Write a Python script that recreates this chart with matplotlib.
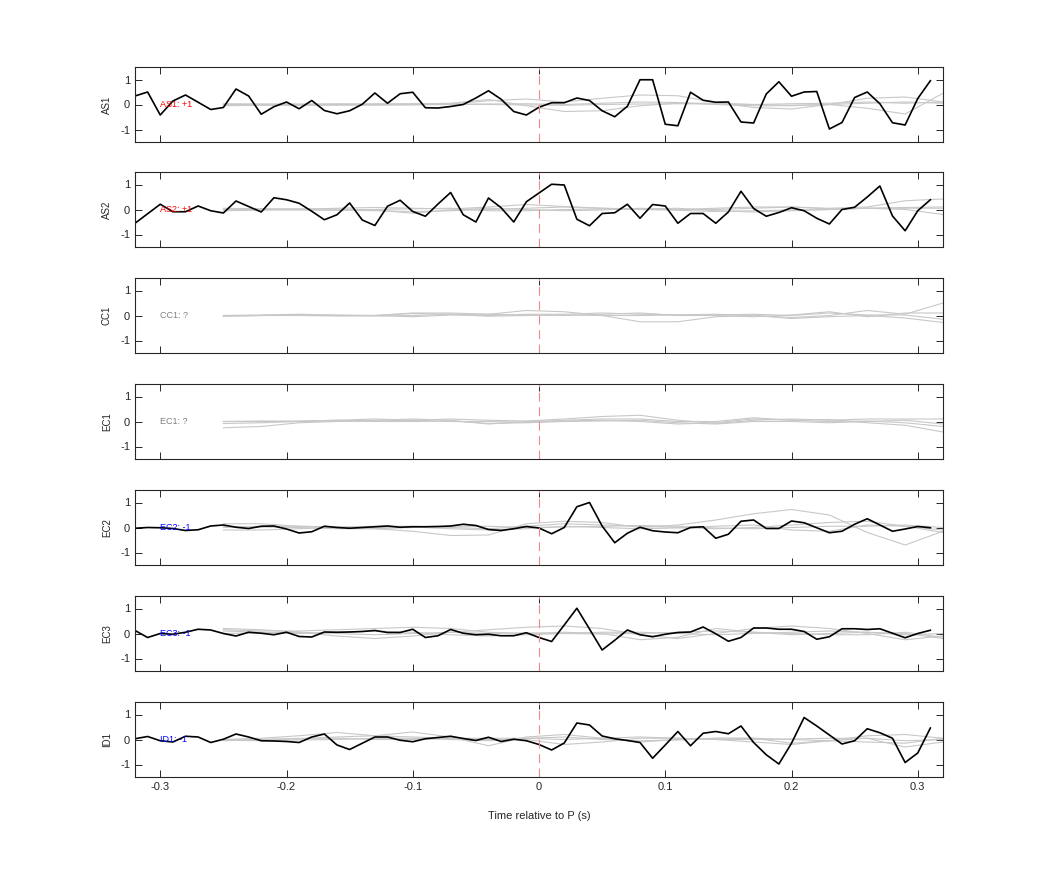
import matplotlib
matplotlib.use('Agg')
import matplotlib.pyplot as plt
import numpy as np

plt.rcParams['font.family'] = ['Liberation Sans', 'DejaVu Sans']
plt.rcParams['axes.unicode_minus'] = False

# black traces, one sample every 0.01 s from -0.32 to 0.31
t = np.round(np.arange(-0.32, 0.315, 0.01), 2)
# smooth grey traces, one sample every 0.03 s from -0.25 to 0.32
tg = np.round(np.linspace(-0.25, 0.32, 20), 2)

names = ['AS1', 'AS2', 'CC1', 'EC1', 'EC2', 'EC3', 'ID1']
labels = ['AS1: +1', 'AS2: +1', 'CC1: ?', 'EC1: ?', 'EC2: -1', 'EC3: -1', 'ID1: -1']
label_colors = ['red', 'red', 'grey', 'grey', 'blue', 'blue', 'blue']

as1 = [0.34, 0.5, -0.42, 0.14, 0.38, 0.09, -0.2, -0.12, 0.62, 0.34, -0.39, -0.09, 0.1, -0.17, 0.16, -0.24,
       -0.37, -0.25, 0.01, 0.46, 0.05, 0.43, 0.49, -0.13, -0.14, -0.08, 0.0, 0.26, 0.55, 0.21, -0.28, -0.42,
       -0.11, 0.07, 0.07, 0.26, 0.16, -0.25, -0.49, -0.07, 0.99, 0.99, -0.79, -0.85, 0.49, 0.17, 0.09, 0.1,
       -0.7, -0.74, 0.42, 0.91, 0.33, 0.5, 0.52, -0.98, -0.72, 0.28, 0.5, 0.03, -0.73, -0.82, 0.24, 0.95]
as2 = [-0.55, -0.17, 0.21, -0.09, -0.09, 0.14, -0.05, -0.14, 0.34, 0.12, -0.1, 0.47, 0.39, 0.25, -0.07, -0.41,
       -0.21, 0.26, -0.42, -0.64, 0.13, 0.37, -0.08, -0.27, 0.22, 0.68, -0.21, -0.5, 0.46, 0.07, -0.5, 0.31,
       0.66, 1.01, 0.98, -0.39, -0.65, -0.16, -0.13, 0.21, -0.35, 0.2, 0.14, -0.55, -0.16, -0.16, -0.55, -0.1,
       0.73, 0.04, -0.27, -0.12, 0.07, -0.05, -0.35, -0.58, 0.0, 0.09, 0.5, 0.94, -0.26, -0.85, -0.05, 0.39]
ec2 = [-0.03, 0.0, -0.01, -0.04, -0.12, -0.09, 0.06, 0.1, 0.01, -0.04, 0.05, 0.06, -0.06, -0.22, -0.17, 0.05,
       0.0, -0.03, 0.0, 0.03, 0.06, 0.01, 0.03, 0.03, 0.04, 0.06, 0.13, 0.08, -0.08, -0.12, -0.05, 0.04,
       -0.02, -0.25, 0.0, 0.83, 1.0, 0.06, -0.61, -0.23, 0.01, -0.13, -0.18, -0.21, 0.0, 0.03, -0.43, -0.27,
       0.25, 0.3, -0.04, -0.04, 0.26, 0.19, -0.01, -0.21, -0.15, 0.13, 0.35, 0.1, -0.15, -0.06, 0.04, -0.01]
ec3 = [0.12, -0.16, 0.0, -0.03, 0.05, 0.17, 0.14, 0.0, -0.1, 0.05, 0.01, -0.05, 0.05, -0.12, -0.14, 0.06,
       0.05, 0.06, 0.08, 0.12, 0.04, 0.04, 0.17, -0.16, -0.09, 0.16, 0.01, -0.05, -0.03, -0.09, -0.09, 0.03,
       -0.16, -0.32, 0.34, 1.01, 0.18, -0.66, -0.27, 0.14, -0.05, -0.13, -0.03, 0.04, 0.06, 0.26, -0.01, -0.31,
       -0.16, 0.22, 0.22, 0.17, 0.17, 0.08, -0.23, -0.13, 0.19, 0.19, 0.16, 0.19, 0.01, -0.17, 0.0, 0.13]
id1 = [0.03, 0.12, -0.05, -0.1, 0.13, 0.1, -0.12, 0.01, 0.22, 0.1, -0.05, -0.06, -0.08, -0.12, 0.1, 0.22,
       -0.22, -0.4, -0.15, 0.1, 0.1, -0.03, -0.09, 0.03, 0.08, 0.13, 0.04, -0.04, 0.09, -0.08, 0.01, -0.05,
       -0.2, -0.42, -0.14, 0.66, 0.58, 0.14, 0.03, -0.04, -0.12, -0.75, -0.22, 0.32, -0.25, 0.25, 0.32, 0.23,
       0.54, -0.12, -0.61, -0.98, -0.15, 0.88, 0.54, 0.18, -0.18, -0.05, 0.43, 0.27, 0.05, -0.92, -0.54, 0.46]
black = [as1, as2, None, None, ec2, ec3, id1]

grey_as1 = [
    [0.0, 0.01, 0.02, 0.03, 0.02, 0.0, 0.02, 0.15, 0.22, 0.1, 0.25, 0.38, 0.35, 0.08, -0.12, -0.18, 0.0, 0.25, 0.3, 0.1],
    [0.0, -0.02, -0.03, -0.02, 0.0, 0.02, 0.05, 0.2, -0.05, -0.28, -0.25, -0.05, 0.05, 0.05, 0.0, -0.03, 0.0, -0.15, -0.38, 0.45],
    [0.03, 0.02, 0.0, -0.02, -0.03, -0.02, 0.0, 0.02, 0.03, 0.0, 0.05, 0.1, 0.08, 0.0, -0.05, -0.05, 0.0, 0.05, 0.1, 0.05],
    [-0.05, -0.03, -0.02, 0.0, 0.02, 0.03, 0.02, 0.0, -0.02, -0.03, 0.0, 0.02, 0.03, 0.02, 0.0, 0.03, 0.05, 0.1, 0.05, 0.1]]
grey_as2 = [
    [0.05, 0.03, 0.0, -0.02, -0.05, -0.08, -0.05, 0.0, 0.05, 0.1, 0.05, 0.0, 0.0, 0.0, 0.05, 0.1, 0.05, 0.1, 0.35, 0.42],
    [-0.05, -0.03, 0.0, 0.05, 0.08, 0.05, 0.02, 0.1, 0.2, 0.12, 0.05, 0.02, 0.05, -0.05, -0.1, -0.05, 0.0, 0.05, 0.05, 0.05],
    [0.0, 0.02, 0.03, 0.02, -0.02, -0.15, -0.02, 0.05, 0.0, -0.05, -0.02, 0.05, 0.0, 0.05, 0.1, 0.1, 0.02, 0.05, 0.0, -0.2],
    [0.02, 0.0, -0.02, -0.03, 0.0, 0.03, 0.05, -0.05, -0.05, 0.0, 0.02, 0.0, -0.03, -0.08, -0.05, -0.02, 0.0, 0.05, 0.08, 0.1]]
grey_cc1 = [
    [-0.02, 0.0, 0.02, 0.0, -0.02, 0.0, 0.05, 0.05, 0.2, 0.15, 0.0, -0.25, -0.25, -0.05, 0.0, -0.08, 0.0, 0.2, 0.05, 0.5],
    [0.0, 0.02, 0.05, 0.02, 0.0, -0.05, 0.02, 0.0, 0.05, 0.05, 0.1, 0.05, 0.03, 0.05, 0.0, -0.12, -0.05, 0.0, -0.1, -0.28],
    [0.0, 0.0, 0.0, -0.02, 0.0, 0.08, 0.05, -0.03, 0.0, 0.02, 0.0, 0.0, 0.02, 0.02, 0.05, 0.0, 0.1, 0.02, 0.02, -0.15],
    [-0.03, 0.0, 0.03, 0.0, 0.0, 0.1, 0.1, 0.05, 0.02, 0.0, 0.05, 0.1, 0.0, 0.0, -0.05, 0.02, 0.15, -0.05, 0.1, 0.1]]
grey_ec1 = [
    [-0.25, -0.2, -0.05, 0.0, 0.02, 0.05, 0.1, 0.05, 0.02, 0.1, 0.2, 0.25, 0.05, -0.08, 0.05, 0.1, 0.05, 0.1, 0.1, 0.1],
    [0.0, 0.0, 0.02, 0.05, 0.1, 0.05, 0.0, 0.0, -0.03, 0.05, 0.1, 0.1, 0.0, 0.0, 0.15, 0.05, 0.0, 0.02, -0.05, -0.2],
    [-0.08, -0.05, 0.0, 0.02, 0.05, 0.1, 0.05, -0.1, 0.0, 0.02, 0.05, 0.0, -0.1, -0.05, 0.1, 0.05, 0.08, -0.05, -0.15, -0.42],
    [0.0, 0.02, 0.0, 0.05, 0.0, 0.0, 0.02, -0.08, -0.05, 0.0, 0.02, 0.05, -0.05, -0.1, 0.0, 0.0, -0.05, 0.0, 0.05, -0.1]]
grey_ec2 = [
    [0.15, 0.15, 0.05, 0.0, -0.05, -0.15, -0.32, -0.3, 0.15, 0.25, 0.2, 0.0, 0.1, 0.3, 0.55, 0.72, 0.5, -0.2, -0.7, -0.15],
    [-0.1, -0.1, -0.05, 0.02, 0.05, 0.05, 0.0, -0.05, 0.05, 0.15, 0.1, 0.05, 0.0, -0.05, 0.0, 0.1, 0.2, 0.25, 0.05, -0.1],
    [0.05, 0.02, 0.0, -0.05, -0.05, 0.0, 0.05, 0.05, 0.0, 0.02, 0.05, 0.08, 0.05, -0.02, -0.05, 0.0, 0.05, 0.05, 0.1, 0.0],
    [0.0, 0.05, 0.05, 0.02, 0.0, 0.02, -0.05, -0.1, -0.05, 0.05, 0.0, -0.05, -0.02, 0.05, 0.1, -0.1, -0.15, 0.1, 0.05, -0.2]]
grey_ec3 = [
    [0.2, 0.15, 0.05, -0.1, -0.2, -0.1, 0.05, 0.15, 0.25, 0.3, 0.2, -0.05, -0.2, 0.0, 0.2, 0.3, 0.2, 0.0, -0.25, -0.1],
    [0.15, 0.1, 0.1, 0.15, 0.2, 0.25, 0.2, 0.05, 0.0, 0.05, 0.0, -0.25, -0.15, 0.2, 0.05, -0.05, 0.0, 0.05, 0.0, -0.2],
    [0.1, 0.05, 0.0, 0.05, 0.1, 0.05, -0.05, -0.1, -0.05, 0.0, 0.05, 0.05, 0.0, -0.05, 0.0, 0.05, 0.1, 0.05, -0.05, 0.0],
    [0.0, 0.02, 0.05, 0.0, -0.05, 0.0, 0.05, 0.0, 0.02, 0.0, -0.02, 0.0, 0.05, 0.1, 0.05, 0.0, -0.05, -0.05, 0.05, -0.15]]
grey_id1 = [
    [0.0, 0.05, 0.15, 0.28, 0.15, 0.3, 0.1, -0.25, 0.1, 0.2, 0.05, -0.1, 0.0, 0.05, 0.05, -0.15, -0.05, 0.15, 0.2, 0.05],
    [-0.05, 0.0, 0.05, 0.05, 0.0, 0.0, 0.05, 0.0, 0.0, -0.2, -0.1, 0.05, 0.05, 0.0, -0.1, -0.2, -0.05, 0.05, -0.3, -0.1],
    [0.0, 0.0, 0.02, 0.1, 0.15, 0.1, 0.05, 0.05, 0.05, 0.0, 0.05, 0.1, 0.05, 0.0, 0.0, 0.02, 0.05, 0.05, -0.05, 0.0],
    [-0.03, -0.05, -0.02, 0.0, 0.05, 0.05, 0.0, -0.05, 0.05, 0.1, 0.0, -0.05, -0.02, 0.05, 0.05, 0.0, -0.05, -0.1, -0.15, 0.05]]
greys = [grey_as1, grey_as2, grey_cc1, grey_ec1, grey_ec2, grey_ec3, grey_id1]

W, H = 1042, 875
fig = plt.figure(figsize=(W / 100, H / 100), dpi=100)
tops = [67, 172, 278, 384, 490, 596, 702]

for i in range(7):
    ax = fig.add_axes([135 / W, 1 - (tops[i] + 75) / H, 808 / W, 75 / H])
    for g in greys[i]:
        ax.plot(tg, g, color='#c8c8c8', lw=0.8)
    if black[i] is not None:
        ax.plot(t, black[i], color='black', lw=1.2)
    ax.axvline(0, color='#f08888', lw=0.8, ls=(0, (8, 5)))
    ax.text(-0.3, 0, labels[i], color=label_colors[i], fontsize=6.5, va='center', ha='left')
    ax.set_xlim(-0.32, 0.32)
    ax.set_ylim(-1.5, 1.5)
    ax.set_yticks([-1, 0, 1])
    ax.set_xticks([-0.3, -0.2, -0.1, 0, 0.1, 0.2, 0.3])
    ax.set_ylabel(names[i], fontsize=7, color='#262626', labelpad=6)
    ax.tick_params(direction='in', top=True, right=True, length=5, width=0.7,
                   labelsize=8, colors='#262626')
    for s in ax.spines.values():
        s.set_linewidth(0.8)
        s.set_color('#262626')
    if i < 6:
        ax.set_xticklabels([])
    else:
        ax.set_xticklabels(['-0.3', '-0.2', '-0.1', '0', '0.1', '0.2', '0.3'])
        ax.set_xlabel('Time relative to P (s)', fontsize=8, color='#262626', labelpad=14)

plt.savefig('out.png', dpi=100)
